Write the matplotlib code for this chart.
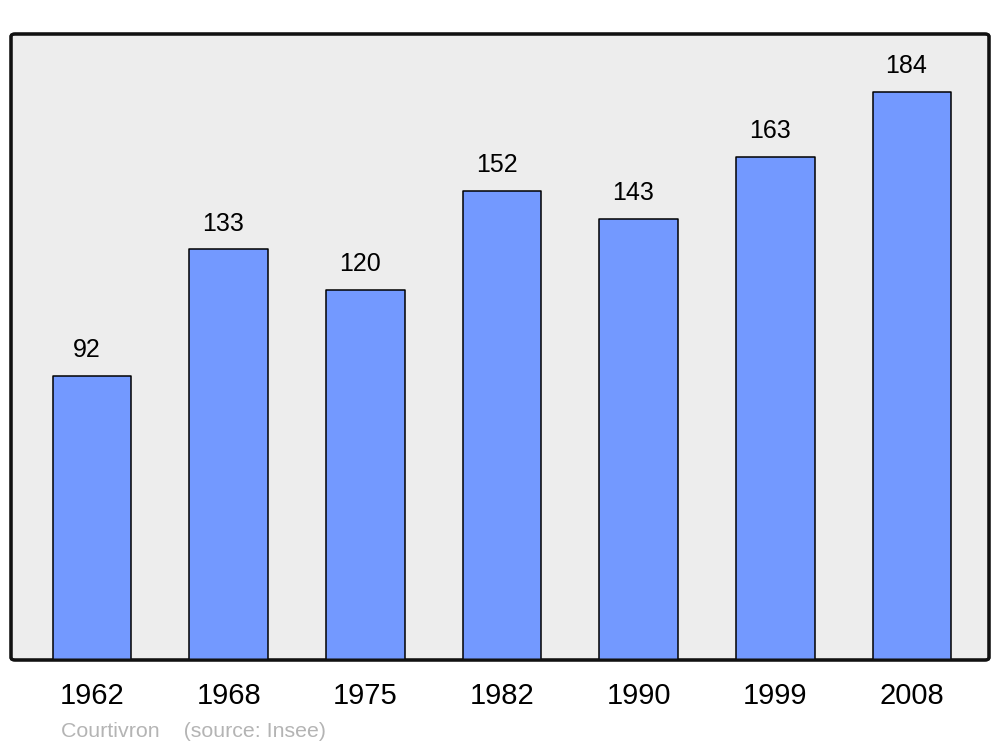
import matplotlib
matplotlib.use("Agg")
import matplotlib.pyplot as plt
from matplotlib.patches import FancyBboxPatch
from matplotlib.transforms import ScaledTranslation
import numpy as np

plt.rcParams['font.family'] = ['Liberation Sans', 'DejaVu Sans']

years = ['1962', '1968', '1975', '1982', '1990', '1999', '2008']
population = [92, 133, 120, 152, 143, 163, 184]
source_text = 'Courtivron    (source: Insee)'

fig = plt.figure(figsize=(10, 7.47), dpi=100)
ax = fig.add_axes([0.011, 1 - 660 / 747, 0.978, 626 / 747])

x = np.arange(len(years))
bars = ax.bar(x, population, width=0.575, color='#7399ff', edgecolor='black',
              linewidth=1.1, zorder=2)
for b in bars:
    b.set_joinstyle('round')

for xi, v in zip(x, population):
    ax.annotate(str(v), (xi, v), xytext=(-4, 13.5), textcoords='offset points',
                ha='center', va='baseline', fontsize=18, color='black')

ax.set_xlim(-0.593, 6.563)
ax.set_ylim(0, 202.8)
ax.set_xticks(x)
ax.set_xticklabels(years, fontsize=21)
# labels sit a touch left of the bar centres
shift = ScaledTranslation(-2 / 100, 0, fig.dpi_scale_trans)
for lbl in ax.get_xticklabels():
    lbl.set_transform(lbl.get_transform() + shift)
ax.tick_params(axis='x', length=0, pad=16)
ax.set_yticks([])
for s in ax.spines.values():
    s.set_visible(False)
ax.set_facecolor('none')

frame = FancyBboxPatch((0, 0), 1, 1, boxstyle='round,pad=0,rounding_size=0.004',
                       transform=ax.transAxes, facecolor='#ededed',
                       edgecolor='#111111', linewidth=2.2, zorder=0, clip_on=False)
ax.add_patch(frame)
# border drawn again on top of the bars
frame_top = FancyBboxPatch((0, 0), 1, 1, boxstyle='round,pad=0,rounding_size=0.004',
                           transform=ax.transAxes, facecolor='none',
                           edgecolor='#111111', linewidth=2.2, zorder=3, clip_on=False)
ax.add_patch(frame_top)

fig.text(61 / 1000, 1 - 737 / 747, source_text, fontsize=15.4, color='#b4b4b4',
         ha='left', va='baseline')

fig.savefig('out.png', dpi=100)
